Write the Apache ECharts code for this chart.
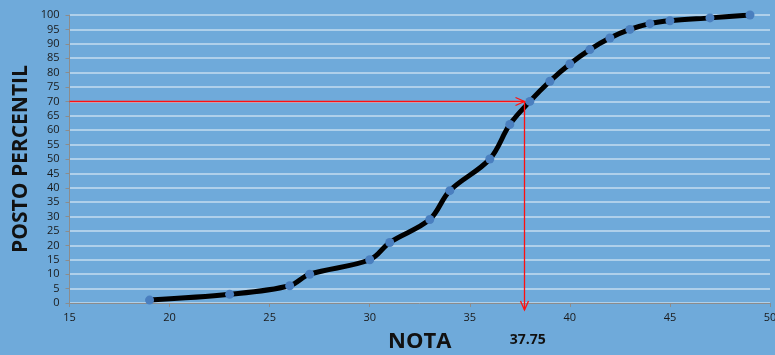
<!DOCTYPE html>
<html>
<head>
<meta charset="utf-8">
<title>Posto percentil x Nota</title>
<script src="https://cdn.jsdelivr.net/npm/echarts@6/dist/echarts.min.js"></script>
<style>
  html, body { margin: 0; padding: 0; background: #6FAADA; }
  #chart { width: 775px; height: 355px; }
</style>
</head>
<body>
<div id="chart"></div>
<script>
// Notas observadas e o posto percentil acumulado correspondente
const notas = [19, 23, 26, 27, 30, 31, 33, 34, 36, 37, 38, 39, 40, 41, 42, 43, 44, 45, 47, 49];
const postos = [1, 3, 6, 10, 15, 21, 29, 39, 50, 62, 70, 77, 83, 88, 92, 95, 97, 98, 99, 100];

// Leitura do percentil 70 na curva
const percentilAlvo = 70;
const notaAlvo = 37.75;
const rotuloNota = '37.75';

const xMin = 15, xMax = 50, xStep = 5;
const yMin = 0, yMax = 100, yStep = 5;

const curva = notas.map((n, i) => [n, postos[i]]);

const chart = echarts.init(document.getElementById('chart'), null, { renderer: 'canvas' });

const fonte = '"Open Sans", "Liberation Sans", sans-serif';

// alinha uma coordenada ao meio do pixel para traços de 1px nítidos
const nitido = v => Math.floor(v) + 0.5;

chart.setOption({
  backgroundColor: '#6FAADA',
  animation: false,
  grid: { left: 69.5, right: 5, top: 15, bottom: 52, containLabel: false, outerBoundsMode: 'none' },
  xAxis: {
    type: 'value',
    min: xMin, max: xMax, interval: xStep,
    name: 'NOTA',
    nameLocation: 'middle',
    nameGap: 28,
    nameTextStyle: { fontFamily: fonte, fontWeight: 'bold', fontSize: 22, color: '#111' },
    axisLine: { show: true, lineStyle: { color: '#8C8C8C', width: 1 } },
    axisTick: { show: true, inside: false, length: 4, lineStyle: { color: '#8C8C8C' } },
    axisLabel: { fontFamily: fonte, fontSize: 11, color: '#1A1A1A', margin: 9 },
    splitLine: { show: false }
  },
  yAxis: {
    type: 'value',
    min: yMin, max: yMax, interval: yStep,
    name: 'POSTO PERCENTIL',
    nameLocation: 'middle',
    nameRotate: 90,
    nameGap: 38,
    nameMoveOverlap: false,
    nameTextStyle: { fontFamily: fonte, fontWeight: 'bold', fontSize: 21, color: '#111' },
    axisLine: { show: true, lineStyle: { color: '#8C8C8C', width: 1 } },
    axisTick: { show: true, inside: false, length: 4, lineStyle: { color: '#8C8C8C' } },
    axisLabel: { fontFamily: fonte, fontSize: 11, color: '#1A1A1A', margin: 10 },
    splitLine: { show: true, lineStyle: { color: '#C4DCEF', width: 1.5 } }
  },
  series: [
    {
      type: 'line',
      data: curva,
      smooth: 0.35,
      symbol: 'circle',
      symbolSize: 9,
      lineStyle: { color: '#000', width: 5 },
      itemStyle: { color: '#4A7FBF' },
      z: 3
    },
    {
      // Linhas de leitura com setas abertas e o rótulo da nota
      type: 'custom',
      data: [[notaAlvo, percentilAlvo]],
      z: 4,
      silent: true,
      renderItem: function (params, api) {
        const nx = api.value(0), py = api.value(1);
        const p0 = api.coord([xMin, py]);
        const p1 = api.coord([nx, py]);
        const p2 = api.coord([nx, yMin]);
        const yH = nitido(p1[1]);
        const xV = nitido(p1[0]);
        const pontaV = [xV, p2[1] + 7];
        const verm = '#FF1010';
        const estilo = { stroke: verm, lineWidth: 1.3, fill: null };
        return {
          type: 'group',
          children: [
            { type: 'line', shape: { x1: p0[0], y1: yH, x2: xV, y2: yH }, style: estilo, z2: 10 },
            { type: 'polyline', shape: { points: [[xV - 9, yH - 4], [xV, yH], [xV - 9, yH + 4]] }, style: estilo, z2: 10 },
            { type: 'line', shape: { x1: xV, y1: yH, x2: pontaV[0], y2: pontaV[1] }, style: estilo, z2: 10 },
            { type: 'polyline', shape: { points: [[pontaV[0] - 4, pontaV[1] - 9], pontaV, [pontaV[0] + 4, pontaV[1] - 9]] }, style: estilo, z2: 10 },
            {
              type: 'text',
              x: p2[0] + 3, y: p2[1] + 37,
              style: {
                text: rotuloNota,
                fontFamily: fonte, fontWeight: 'bold', fontSize: 14,
                fill: '#111', align: 'center', verticalAlign: 'middle'
              }
            }
          ]
        };
      }
    }
  ]
});
</script>
</body>
</html>
